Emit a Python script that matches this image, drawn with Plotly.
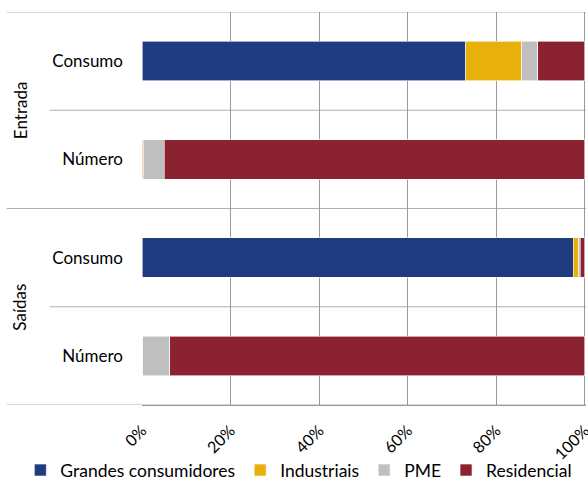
import plotly.graph_objects as go

groups = ["Entrada", "Entrada", "Saídas", "Saídas"]
subcats = ["Consumo", "Número", "Consumo", "Número"]
series_names = ["Grandes consumidores", "Industriais", "PME", "Residencial"]
grandes = [73.1, 0.0, 97.4, 0.0]
industriais = [12.7, 0.3, 1.3, 0.2]
pme = [3.6, 4.7, 0.3, 6.1]
residencial = [10.6, 95.0, 1.0, 93.7]
colors = ["#203c80", "#e8b00a", "#bfbfbf", "#8b2232"]
x_ticks = [0, 20, 40, 60, 80, 100]
x_ticktext = ["0%", "20%", "40%", "60%", "80%", "100%"]

cat_ids = [g + " | " + s for g, s in zip(groups, subcats)]
values = [grandes, industriais, pme, residencial]

FONT = "Lato"
fig = go.Figure()
for name, vals, col in zip(series_names, values, colors):
    fig.add_trace(go.Bar(
        y=cat_ids, x=vals, name=name, orientation="h",
        marker=dict(color=col, line=dict(color="white", width=0.6)),
        width=0.4,
    ))

line_col = "#b0b0b0"
left_end = -0.305
mid_start = -0.208
shapes = []
for yb in [-0.5, 1.5, 3.5]:
    shapes.append(dict(type="line", xref="paper", yref="y", x0=left_end, x1=1,
                       y0=yb, y1=yb, layer="below", line=dict(color=line_col, width=1.2)))
for yb in [0.5, 2.5]:
    shapes.append(dict(type="line", xref="paper", yref="y", x0=mid_start, x1=1,
                       y0=yb, y1=yb, layer="below", line=dict(color=line_col, width=1.2)))

annotations = []
uniq_groups = []
for g in groups:
    if g not in uniq_groups:
        uniq_groups.append(g)
for g in uniq_groups:
    idx = [i for i, gg in enumerate(groups) if gg == g]
    annotations.append(dict(text=g, xref="paper", yref="y", x=-0.275, xanchor="center",
                            yanchor="middle", y=(idx[0] + idx[-1]) / 2, textangle=-90,
                            showarrow=False, font=dict(family=FONT, size=17, color="black")))

fig.update_layout(
    barmode="stack",
    width=588, height=488,
    margin=dict(l=142, r=2, t=12, b=83, autoexpand=False),
    plot_bgcolor="white", paper_bgcolor="white",
    font=dict(family=FONT, size=16, color="black"),
    xaxis=dict(range=[0, 100.3], autorange=False, tickvals=x_ticks, ticktext=x_ticktext,
               tickangle=-45, showgrid=True, gridcolor="#9a9a9a", gridwidth=1.2,
               zeroline=False, showline=True, linecolor="#9a9a9a", linewidth=1.2,
               tickfont=dict(family=FONT, size=16), ticks="", automargin=False,
               ticklabelstandoff=9, ticklabeloverflow="allow"),
    yaxis=dict(categoryorder="array", categoryarray=cat_ids, autorange=False,
               tickvals=cat_ids, ticktext=subcats, ticks="", showgrid=False,
               range=[3.5, -0.5], tickfont=dict(family=FONT, size=17),
               ticklabelstandoff=18, automargin=False),
    legend=dict(orientation="h", xref="paper", x=-0.274, xanchor="left",
                yref="paper", y=-0.12, yanchor="top",
                font=dict(family=FONT, size=17.5), traceorder="normal",
                bgcolor="rgba(0,0,0,0)"),
    shapes=shapes, annotations=annotations,
    showlegend=True,
)
fig.write_html(
    "out.html",
    config={"displayModeBar": False},
    post_script="document.body.style.margin='0px';document.body.style.overflow='hidden';",
)
